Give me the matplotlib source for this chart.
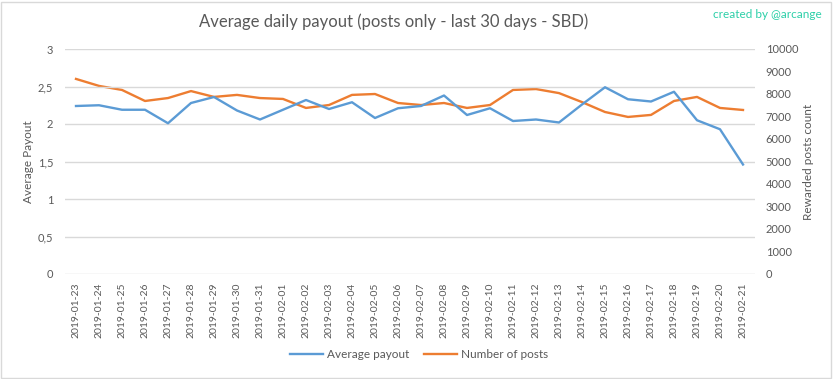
import matplotlib
matplotlib.use("Agg")
import matplotlib.pyplot as plt
from matplotlib.patches import Rectangle

dates = ["2019-01-23","2019-01-24","2019-01-25","2019-01-26","2019-01-27","2019-01-28",
         "2019-01-29","2019-01-30","2019-01-31","2019-02-01","2019-02-02","2019-02-03",
         "2019-02-04","2019-02-05","2019-02-06","2019-02-07","2019-02-08","2019-02-09",
         "2019-02-10","2019-02-11","2019-02-12","2019-02-13","2019-02-14","2019-02-15",
         "2019-02-16","2019-02-17","2019-02-18","2019-02-19","2019-02-20","2019-02-21"]
avg_payout = [2.24, 2.25, 2.19, 2.19, 2.01, 2.28, 2.36, 2.18, 2.06, 2.19,
              2.32, 2.20, 2.29, 2.08, 2.21, 2.24, 2.38, 2.12, 2.21, 2.04,
              2.06, 2.02, 2.26, 2.49, 2.33, 2.30, 2.43, 2.05, 1.93, 1.46]
num_posts = [8670, 8360, 8180, 7690, 7820, 8130, 7870, 7960, 7820, 7780,
             7380, 7510, 7960, 8000, 7600, 7510, 7600, 7380, 7510, 8180,
             8220, 8040, 7640, 7200, 6980, 7070, 7690, 7870, 7380, 7290]
left_ticks = [0, 0.5, 1, 1.5, 2, 2.5, 3]
left_tick_labels = ["0", "0,5", "1", "1,5", "2", "2,5", "3"]
right_ticks = list(range(0, 10001, 1000))

plt.rcParams['font.family'] = ['Lato', 'DejaVu Sans']
txt = '#595959'
W, H = 833, 379
fig = plt.figure(figsize=(W/100, H/100), dpi=100)
fig.patches.append(Rectangle((1/W, 1/H), 1-3/W, 1-3/H, transform=fig.transFigure,
                             fill=False, edgecolor='#d9d9d9', lw=1))

ax = fig.add_axes([64.5/W, 1-274/H, 690/W, 225/H])
ax2 = ax.twinx()
x = list(range(len(dates)))
l1, = ax.plot(x, avg_payout, color='#5b9bd5', lw=1.7, label='Average payout')
l2, = ax2.plot(x, num_posts, color='#ed7d31', lw=1.7, label='Number of posts')
ax.set_zorder(ax2.get_zorder()+1)
ax.patch.set_visible(False)

ax.set_xlim(-0.5, len(dates)-0.5)
ax.set_ylim(0, 3)
ax2.set_ylim(0, 10000)
ax.set_yticks(left_ticks)
ax.set_yticklabels(left_tick_labels)
ax2.set_yticks(right_ticks)
ax.set_xticks(x)
ax.set_xticklabels(dates, rotation=90)
ax.grid(axis='y', color='#d9d9d9', lw=1)
ax.set_axisbelow(True)
for a in (ax, ax2):
    for s in a.spines.values():
        s.set_visible(False)
    a.tick_params(length=0, labelsize=8, colors=txt)
ax.tick_params(axis='x', labelsize=7.5, pad=6)
ax.tick_params(axis='y', pad=8)
ax2.tick_params(axis='y', pad=8)

ax.set_ylabel('Average Payout', color=txt, fontsize=8.5)
ax.yaxis.set_label_coords((34-64.5)/690, 0.5)
ax2.set_ylabel('Rewarded posts count', color=txt, fontsize=8.5, rotation=90)
ax2.yaxis.set_label_coords((803-64.5)/690, 0.5)

fig.text(394/W, 1-22/H, 'Average daily payout (posts only - last 30 days - SBD)',
         ha='center', va='center', fontsize=12, color=txt)
fig.text(822/W, 1-14/H, 'created by @arcange', ha='right', va='center',
         fontsize=8.5, color='#2ccfa8')
fig.legend(handles=[l1, l2], loc='center', bbox_to_anchor=(419/W, 1-355/H), ncol=2,
           frameon=False, fontsize=8.5, labelcolor=txt, handlelength=2.8,
           columnspacing=1.3, handletextpad=0.3)

fig.savefig('out.png', dpi=100)
